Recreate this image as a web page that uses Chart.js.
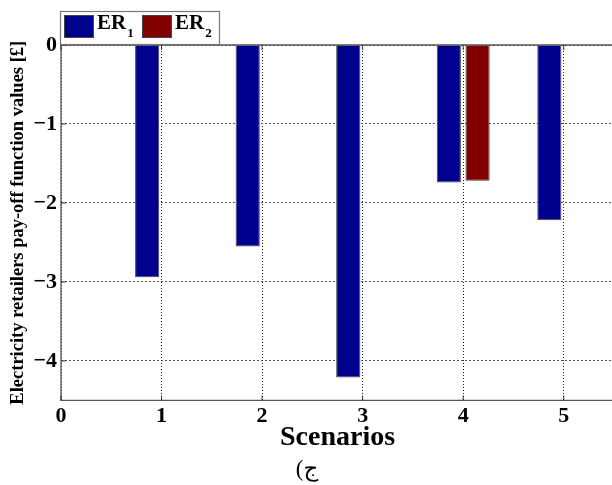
<!DOCTYPE html>
<html>
<head>
<meta charset="utf-8">
<script src="https://cdn.jsdelivr.net/npm/chart.js@4.4.1/dist/chart.umd.min.js"></script>
<style>
  html, body { margin: 0; padding: 0; background: #fff; overflow: hidden; }
  #wrap { width: 614px; height: 485px; }
</style>
</head>
<body>
<div id="wrap"><canvas id="c" width="614" height="485"></canvas></div>
<script>
// Pay-off per scenario for the two electricity retailers
const scenarios   = [1, 2, 3, 4, 5];
const seriesNames = ['ER1', 'ER2'];
const er1Values   = [-2.94, -2.55, -4.21, -1.74, -2.22];
const er2Values   = [0, 0, 0, -1.72, 0];
const xTickValues = [0, 1, 2, 3, 4, 5];
const yTickValues = [0, -1, -2, -3, -4];

const SERIF = '"Liberation Serif", "Times New Roman", serif';

// Axes box (left, top, bottom) plus small inward tick marks
const axesFrame = {
  id: 'axesFrame',
  afterDatasetsDraw(chart) {
    const { ctx, chartArea: a, scales: { x, y } } = chart;
    ctx.save();
    ctx.strokeStyle = '#555';
    ctx.lineWidth = 1.3;
    ctx.beginPath();
    ctx.moveTo(a.right, a.top);
    ctx.lineTo(a.left, a.top);
    ctx.lineTo(a.left, a.bottom);
    ctx.lineTo(a.right, a.bottom);
    ctx.stroke();
    ctx.strokeStyle = '#333';
    ctx.lineWidth = 1;
    ctx.beginPath();
    x.ticks.forEach(t => {
      const px = x.getPixelForValue(t.value);
      ctx.moveTo(px, a.bottom); ctx.lineTo(px, a.bottom - 5);
      ctx.moveTo(px, a.top);    ctx.lineTo(px, a.top + 5);
    });
    y.ticks.forEach(t => {
      const py = y.getPixelForValue(t.value);
      ctx.moveTo(a.left, py); ctx.lineTo(a.left + 5, py);
    });
    ctx.stroke();
    ctx.restore();
  }
};

// Legend box with subscripted series names (ER₁, ER₂)
const legendBox = {
  id: 'legendBox',
  afterDraw(chart) {
    const ctx = chart.ctx;
    const bx = 60, by = 11, bw = 159, bh = 33;
    ctx.save();
    ctx.fillStyle = '#fff';
    ctx.fillRect(bx, by, bw, bh);
    ctx.strokeStyle = '#777';
    ctx.lineWidth = 1.2;
    ctx.strokeRect(bx + 0.5, by + 0.5, bw, bh);
    let x = 64;
    chart.data.datasets.forEach(ds => {
      ctx.fillStyle = ds.backgroundColor;
      ctx.fillRect(x, 15, 30, 23);
      ctx.strokeStyle = '#444';
      ctx.lineWidth = 1;
      ctx.strokeRect(x + 0.5, 15.5, 29, 22);
      const m = ds.label.match(/^(\D+)(\d*)$/);
      ctx.fillStyle = '#000';
      ctx.textBaseline = 'alphabetic';
      ctx.textAlign = 'left';
      ctx.font = 'bold 21px ' + SERIF;
      ctx.fillText(m[1], x + 33, 29);
      const wMain = ctx.measureText(m[1]).width;
      ctx.font = 'bold 13px ' + SERIF;
      ctx.fillText(m[2], x + 33 + wMain + 1, 37);
      x += 78;
    });
    ctx.restore();
  }
};

const toPoints = vals => scenarios.map((s, i) => ({ x: s, y: vals[i] }));

new Chart(document.getElementById('c'), {
  type: 'bar',
  data: {
    datasets: [
      {
        label: seriesNames[0],
        data: toPoints(er1Values),
        backgroundColor: '#00008F',
        borderColor: '#444',
        borderWidth: 1
      },
      {
        label: seriesNames[1],
        data: toPoints(er2Values),
        backgroundColor: '#800000',
        borderColor: '#444',
        borderWidth: 1
      }
    ]
  },
  options: {
    responsive: false,
    animation: false,
    devicePixelRatio: 1,
    categoryPercentage: 0.572,
    barPercentage: 0.84,
    layout: { padding: { top: 45, left: 0, right: 0, bottom: 0 } },
    plugins: {
      legend: { display: false },
      tooltip: { enabled: false },
      title: {
        display: true,
        position: 'bottom',
        text: '\u202Bج)\u202C',
        color: '#000',
        font: { family: SERIF + ', "DejaVu Sans"', size: 23, weight: 'normal', lineHeight: 1.2 },
        padding: { top: 4, bottom: 1 }
      }
    },
    scales: {
      x: {
        type: 'linear',
        min: 0,
        max: 5.5,
        offset: false,
        afterBuildTicks: s => { s.ticks = xTickValues.map(v => ({ value: v })); },
        afterFit: s => { s.height = 52; },
        ticks: {
          color: '#000',
          padding: 3,
          maxRotation: 0,
          font: { family: SERIF, size: 22, weight: 'bold' },
          callback: v => String(v)
        },
        grid: {
          offset: false,
          color: '#222',
          lineWidth: 1,
          drawTicks: false
        },
        border: { display: false, dash: [1, 2] },
        title: {
          display: true,
          text: 'Scenarios',
          color: '#000',
          font: { family: SERIF, size: 28, weight: 'bold', lineHeight: 1 },
          padding: { top: 0, bottom: 1 }
        }
      },
      y: {
        type: 'linear',
        min: -4.5,
        max: 0,
        afterBuildTicks: s => { s.ticks = yTickValues.map(v => ({ value: v })); },
        afterFit: s => { s.width = 61; },
        ticks: {
          color: '#000',
          padding: 4,
          font: { family: SERIF, size: 22, weight: 'bold' },
          callback: v => (v < 0 ? '\u2212' + Math.abs(v) : String(v))
        },
        grid: {
          color: '#555',
          lineWidth: 1,
          drawTicks: false
        },
        border: { display: false, dash: [2, 2] },
        title: {
          display: true,
          text: 'Electricity retailers pay-off function values [£]',
          color: '#000',
          font: { family: SERIF, size: 18.5, weight: 'bold', lineHeight: 1.2 },
          padding: { top: 7, bottom: 0 }
        }
      }
    }
  },
  plugins: [axesFrame, legendBox]
});
</script>
</body>
</html>
